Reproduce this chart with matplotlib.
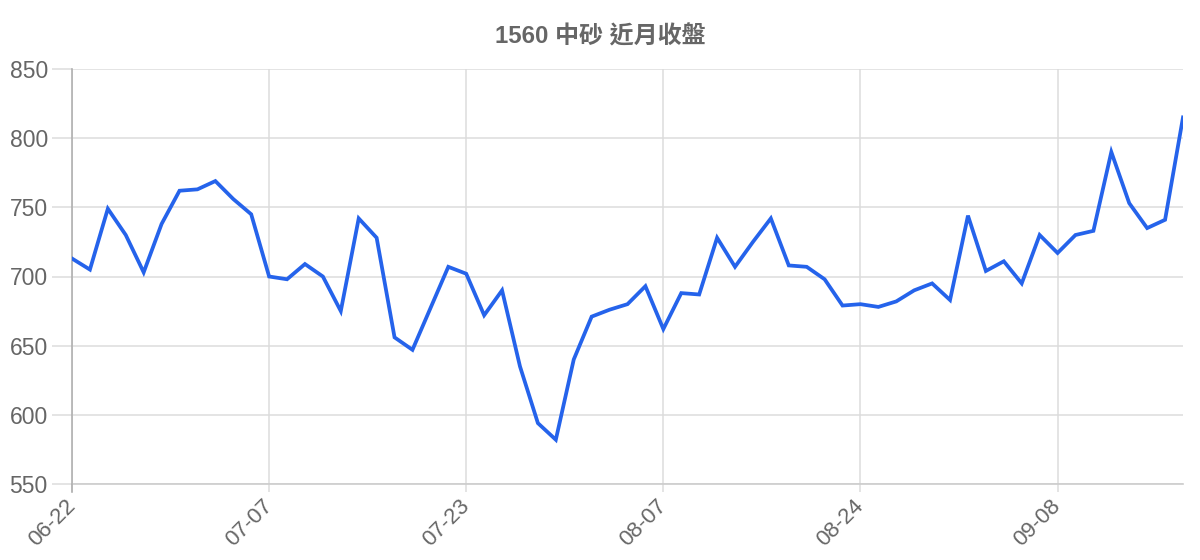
import matplotlib
matplotlib.use("Agg")
import matplotlib.pyplot as plt
from matplotlib.lines import Line2D

# ---- data ----
title = "1560 中砂 近月收盤"
values = [713, 705, 749, 730, 703, 738, 762, 763, 769, 756, 745,
          700, 698, 709, 700, 675, 742, 728, 656, 647, 677, 707,
          702, 672, 690, 635, 594, 582, 640, 671, 676, 680, 693,
          662, 688, 687, 728, 707, 725, 742, 708, 707, 698, 679,
          680, 678, 682, 690, 695, 683, 744, 704, 711, 695, 730,
          717, 730, 733, 790, 753, 735, 741, 815]
tick_idx = [0, 11, 22, 33, 44, 55]
tick_labels = ["06-22", "07-07", "07-23", "08-07", "08-24", "09-08"]
y_ticks = [550, 600, 650, 700, 750, 800, 850]

plt.rcParams['font.family'] = ['Liberation Sans', 'Noto Sans CJK TC', 'DejaVu Sans']

W, H = 1200, 560
fig = plt.figure(figsize=(W / 100, H / 100), dpi=100)
left, right, top, bottom = 72, 1183, 69, 484
ax = fig.add_axes([left / W, (H - bottom) / H, (right - left) / W, (bottom - top) / H])

x = list(range(len(values)))
ax.plot(x, values, color='#2563eb', linewidth=2.7, solid_joinstyle='miter', zorder=3)

ax.set_xlim(0, len(values) - 1)
ax.set_ylim(y_ticks[0], y_ticks[-1])
ax.set_yticks(y_ticks)
ax.set_yticklabels([str(v) for v in y_ticks])
ax.set_xticks(tick_idx)
ax.set_xticklabels(tick_labels, rotation=45, ha='right', va='center', rotation_mode='anchor')

grid_c = '#dcdcdc'
ax.grid(True, color=grid_c, linewidth=1.1, zorder=0)
ax.tick_params(axis='y', length=14.4, width=1.1, color=grid_c, pad=3,
               labelsize=16.5, labelcolor='#666666')
ax.tick_params(axis='x', length=5.8, width=1.1, color=grid_c, pad=8,
               labelsize=16, labelcolor='#666666')

for s in ['top', 'right']:
    ax.spines[s].set_visible(False)
ax.spines['left'].set_color('#b0b0b0')
ax.spines['left'].set_linewidth(1.2)
ax.spines['bottom'].set_color('#cccccc')
ax.spines['bottom'].set_linewidth(1.2)

# y axis line continues down through the tick mark
fig.add_artist(Line2D([left / W, left / W], [(H - bottom - 8) / H, (H - bottom) / H],
                      transform=fig.transFigure, color='#b0b0b0', lw=1.2))

fig.text(600 / W, 1 - 37 / H, title, ha='center', va='center', fontsize=17.3,
         fontweight='bold', color='#666666')

fig.savefig('out.png', dpi=100)
